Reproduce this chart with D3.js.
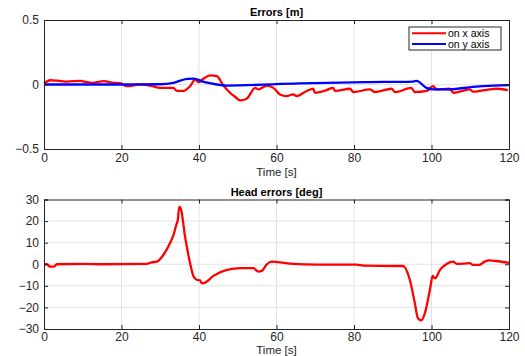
<!DOCTYPE html>
<html>
<head>
<meta charset="utf-8">
<script src="https://cdn.jsdelivr.net/npm/d3@7"></script>
<style>
  body { margin: 0; background: #fff; }
  text { font-family: "Liberation Sans", Arial, sans-serif; }
</style>
</head>
<body>
<div class="chart"></div>
<script>
var svgWidth = 525;
var svgHeight = 356;

// Errors [m] - x axis (time, value)
var errXTime = [0, 1.6, 3.3, 4.6, 5.9, 9.4, 11, 12.8, 15.4, 18, 19.7, 21.4, 24.8, 27.4, 30, 33.4, 34.3, 36, 37.7, 39, 39.9, 41.1, 42.9, 44.6, 46.3, 48, 49.3, 50.6, 52.3, 54.5, 55.3, 57.5, 59.2, 60.9, 62.6, 64.3, 65.2, 67.8, 69.5, 69.9, 72.9, 74.6, 75.1, 79, 79.8, 84.1, 85.4, 89.7, 90.6, 94.8, 95.7, 98.7, 100.4, 101.3, 104.7, 105.6, 109.9, 110.7, 115, 116.7, 119.7];
var errXValue = [0.008, 0.033, 0.03, 0.026, 0.023, 0.028, 0.018, 0.013, 0.026, 0.013, 0.01, -0.013, 0, -0.008, -0.026, -0.026, -0.05, -0.05, -0.013, 0.038, 0.018, 0.044, 0.07, 0.064, -0.008, -0.064, -0.095, -0.123, -0.11, -0.026, -0.038, -0.008, -0.026, -0.077, -0.09, -0.077, -0.09, -0.05, -0.033, -0.064, -0.044, -0.026, -0.05, -0.033, -0.059, -0.038, -0.059, -0.033, -0.059, -0.026, -0.059, -0.05, -0.013, -0.038, -0.033, -0.064, -0.038, -0.056, -0.038, -0.033, -0.044];

// Errors [m] - y axis
var errYTime = [0, 10, 20, 30, 33.4, 37, 38.6, 41.2, 44.6, 47, 66, 83, 95.3, 96.1, 98.7, 100.4, 104.7, 110.7, 116, 120];
var errYValue = [0, 0, 0, 0.002, 0.013, 0.044, 0.046, 0.02, 0, -0.008, 0.008, 0.018, 0.023, 0.028, -0.026, -0.038, -0.038, -0.018, -0.008, -0.005];

// Head errors [deg]
var headTime = [0, 0.8, 1.5, 2.5, 3.3, 10.2, 14.5, 26.5, 27.8, 29.1, 30.8, 32.5, 33.4, 34.3, 34.5, 34.9, 35.3, 36.4, 37.7, 38.6, 39.4, 40.3, 40.7, 41.6, 43.7, 47.2, 50.6, 54, 55.3, 56.2, 57.5, 58.8, 60.9, 64.3, 70.4, 80.7, 82.4, 91.8, 92.7, 94.4, 95.7, 96.5, 97.4, 98.3, 99.6, 100.3, 100.9, 102.2, 103.9, 105.6, 106.5, 109.9, 110.7, 112.4, 113.7, 115, 116.7, 120];
var headValue = [0, 0, -1.1, -1.1, 0, 0.15, 0, 0.15, 0.9, 1.2, 4.3, 9.7, 13.5, 19.2, 20.2, 26.6, 25.8, 12.8, 0.5, -5.7, -7.2, -7.5, -8.8, -8.5, -5.4, -2.6, -1.8, -1.8, -3.4, -3.1, 0, 1.2, 0.9, 0.15, -0.15, -0.15, -0.6, -0.8, -0.8, -7.2, -18, -25, -26, -22.6, -11.8, -5.4, -6.5, -2.6, 0.15, 1.2, 0.15, 0.5, -0.3, -0.3, 1.2, 1.8, 1.5, 0.6];

var xTicks = [0, 20, 40, 60, 80, 100, 120];
var topYTicks = [-0.5, 0, 0.5];
var bottomYTicks = [-30, -20, -10, 0, 10, 20, 30];
var legendLabels = ["on x axis", "on y axis"];
var seriesColors = ["#ff0000", "#0000ff"];

var svg = d3.select(".chart")
  .append("svg")
  .attr("width", svgWidth)
  .attr("height", svgHeight);

function drawPanel(opts) {
  var width = 465, height = opts.height;
  var g = svg.append("g")
    .attr("transform", `translate(44, ${opts.top})`);

  var x = d3.scaleLinear().domain([0, 120]).range([0, width]);
  var y = d3.scaleLinear().domain(opts.yDomain).range([height, 0]);

  // grid
  g.selectAll(".vgrid").data(xTicks.slice(1, -1)).enter().append("line")
    .attr("x1", d => x(d)).attr("x2", d => x(d))
    .attr("y1", 0).attr("y2", height)
    .attr("stroke", "#e3e3e3").attr("stroke-width", 1);
  g.selectAll(".hgrid").data(opts.yTicks.slice(1, -1)).enter().append("line")
    .attr("x1", 0).attr("x2", width)
    .attr("y1", d => y(d)).attr("y2", d => y(d))
    .attr("stroke", "#e3e3e3").attr("stroke-width", 1);

  // lines
  opts.series.forEach(function(s) {
    var pts = d3.zip(s.t, s.v);
    g.append("path")
      .datum(pts)
      .attr("fill", "none")
      .attr("stroke", s.color)
      .attr("stroke-width", 2.3)
      .attr("stroke-linejoin", "round")
      .attr("d", d3.line().curve(d3.curveMonotoneX).x(d => x(d[0])).y(d => y(d[1])));
  });

  // axes (MATLAB style: ticks inside, mirrored on top/right)
  var tickFmt = d => d3.format("")(d);
  g.append("g").attr("transform", `translate(0, ${height})`)
    .call(d3.axisBottom(x).tickValues(xTicks).tickSize(-4).tickPadding(opts.xPad).tickFormat(tickFmt));
  g.append("g")
    .call(d3.axisTop(x).tickValues(xTicks).tickSize(-4).tickFormat(""));
  g.append("g")
    .call(d3.axisLeft(y).tickValues(opts.yTicks).tickSize(-4).tickPadding(5).tickFormat(tickFmt));
  g.append("g").attr("transform", `translate(${width}, 0)`)
    .call(d3.axisRight(y).tickValues(opts.yTicks).tickSize(-4).tickFormat(""));

  g.selectAll(".domain").attr("stroke", "#262626");
  g.selectAll(".tick line").attr("stroke", "#262626");
  g.selectAll(".tick text")
    .attr("fill", "#262626")
    .style("font-size", "12px");

  // title
  g.append("text")
    .attr("x", width / 2)
    .attr("y", -4)
    .attr("text-anchor", "middle")
    .style("font-size", "11px")
    .style("font-weight", "bold")
    .attr("fill", "#000")
    .text(opts.title);

  // x label
  g.append("text")
    .attr("x", width / 2)
    .attr("y", height + opts.labelOffset)
    .attr("text-anchor", "middle")
    .style("font-size", "11.5px")
    .attr("fill", "#262626")
    .text("Time [s]");

  return {g: g, x: x, y: y, width: width};
}

var topPanel = drawPanel({
  top: 20, height: 129, yDomain: [-0.5, 0.5], yTicks: topYTicks,
  title: "Errors [m]", labelOffset: 27, xPad: 4,
  series: [
    {t: errXTime, v: errXValue, color: seriesColors[0]},
    {t: errYTime, v: errYValue, color: seriesColors[1]}
  ]
});

drawPanel({
  top: 199.5, height: 129.5, yDomain: [-30, 30], yTicks: bottomYTicks,
  title: "Head errors [deg]", labelOffset: 25, xPad: 3,
  series: [{t: headTime, v: headValue, color: seriesColors[0]}]
});

// legend
var legend = topPanel.g.append("g").attr("transform", "translate(365, 7)");
legend.append("rect")
  .attr("width", 92).attr("height", 23)
  .attr("fill", "#fff").attr("stroke", "#262626").attr("stroke-width", 1);
legendLabels.forEach(function(label, i) {
  legend.append("line")
    .attr("x1", 3).attr("x2", 37)
    .attr("y1", 6.3 + i * 10.7).attr("y2", 6.3 + i * 10.7)
    .attr("stroke", seriesColors[i]).attr("stroke-width", 2);
  legend.append("text")
    .attr("x", 39).attr("y", 6.3 + i * 10.7)
    .attr("dy", "0.35em")
    .style("font-size", "10.5px")
    .attr("fill", "#000")
    .text(label);
});
</script>
</body>
</html>
